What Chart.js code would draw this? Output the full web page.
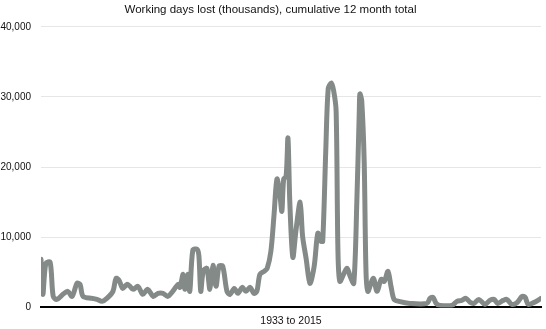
<!DOCTYPE html>
<html>
<head>
<meta charset="utf-8">
<script src="https://cdn.jsdelivr.net/npm/chart.js@4"></script>
<style>
  html, body { margin: 0; padding: 0; background: #fff; }
  #wrap { width: 546px; height: 329px; }
</style>
</head>
<body>
<div id="wrap"><canvas id="grafico"></canvas></div>
<script>
// year (decimal) and working days lost in thousands
const anni = [
  1933.0, 1933.3, 1933.8, 1934.5, 1935.0, 1935.6, 1936.6, 1937.4, 1938.1, 1938.9,
  1939.4, 1939.9, 1941.4, 1942.2, 1943.0, 1943.8, 1944.8, 1945.3, 1945.8, 1946.4,
  1947.1, 1947.6, 1948.1, 1948.9, 1949.7, 1950.5, 1951.4, 1952.2, 1953.0, 1953.8,
  1954.6, 1955.5, 1955.8, 1956.3, 1956.6, 1957.1, 1957.4, 1957.9, 1958.6, 1958.9,
  1959.2, 1959.6, 1960.2, 1960.7, 1961.2, 1961.7, 1962.2, 1962.8, 1963.5, 1964.0,
  1964.7, 1965.3, 1966.0, 1966.6, 1967.3, 1967.9, 1968.4, 1968.9, 1969.6, 1970.1,
  1970.7, 1971.2, 1971.7, 1972.2, 1972.5, 1972.8, 1973.2, 1973.5, 1973.8, 1974.3,
  1974.8, 1975.5, 1975.9, 1976.5, 1977.1, 1977.8, 1978.4, 1978.9, 1979.2, 1979.7,
  1980.1, 1980.6, 1981.0, 1981.4, 1981.7, 1982.0, 1982.7, 1983.2, 1983.7, 1984.3,
  1984.8, 1985.2, 1985.3, 1985.6, 1986.0, 1986.3, 1986.6, 1987.5, 1988.1, 1988.8,
  1989.3, 1989.9, 1990.4, 1990.9, 1991.7, 1993.5, 1996.3, 1996.8, 1997.3, 1997.8,
  1998.4, 2000.4, 2001.2, 2002.0, 2002.7, 2003.4, 2004.0, 2004.8, 2005.8, 2006.6,
  2007.3, 2007.9, 2008.8, 2009.4, 2010.2, 2011.1, 2011.9, 2012.4, 2012.9, 2013.9,
  2014.5, 2015.0
];

const giorniPersi = [
  6860, 1860, 6290, 6430, 1570, 1140, 1860, 2290, 1570, 3430,
  3290, 1570, 1290, 1140, 860, 1290, 2290, 4140, 3860, 2710,
  3290, 3000, 2570, 3000, 1860, 2570, 1570, 2000, 2000, 1570,
  2290, 3290, 2860, 4710, 2570, 4710, 2290, 8140, 8290, 7290,
  2290, 5140, 5570, 2570, 6000, 3000, 5860, 5860, 2290, 1860,
  2710, 2000, 2860, 2290, 2860, 2000, 2290, 4710, 5140, 5570,
  8000, 13000, 18290, 15860, 13710, 18290, 18710, 24140, 15140, 7140,
  10860, 15000, 10140, 6860, 3430, 5860, 10570, 9430, 9430, 22290,
  31140, 32000, 30860, 28000, 8000, 3710, 4860, 5570, 4430, 3430,
  15140, 28000, 30430, 29430, 20860, 5140, 2290, 4140, 2290, 4000,
  3710, 5140, 3000, 1140, 860, 570, 570, 1290, 1430, 570,
  290, 290, 860, 1000, 1290, 710, 570, 1140, 430, 1000,
  1140, 570, 1000, 1140, 430, 710, 1570, 1430, 430, 710,
  1000, 1290
];

const titolo = 'Working days lost (thousands), cumulative 12 month total';
const etichettaX = '1933 to 2015';
const tickY = [0, 10000, 20000, 30000, 40000];

Chart.defaults.font.family = '"Liberation Sans", Arial, sans-serif';
Chart.defaults.color = '#222';

const punti = anni.map((a, i) => ({ x: a, y: giorniPersi[i] }));

new Chart(document.getElementById('grafico').getContext('2d'), {
  type: 'line',
  data: {
    datasets: [{
      label: 'Working days lost',
      data: punti,
      borderColor: '#848a87',
      borderWidth: 5,
      pointRadius: 0,
      tension: 0.3,
      borderJoinStyle: 'round',
      borderCapStyle: 'round',
      fill: false
    }]
  },
  options: {
    responsive: true,
    maintainAspectRatio: false,
    animation: false,
    layout: { padding: { left: 0, right: 5, top: 0, bottom: 2 } },
    plugins: {
      legend: { display: false },
      tooltip: { enabled: false },
      title: {
        display: true,
        text: titolo,
        color: '#111',
        font: { size: 11.5, weight: 'normal' },
        padding: { top: 3, bottom: 10 }
      }
    },
    scales: {
      x: {
        type: 'linear',
        min: anni[0],
        max: anni[anni.length - 1],
        ticks: { display: false },
        grid: { display: false, drawTicks: false },
        border: { display: true, color: '#000', width: 2 },
        title: {
          display: true,
          text: etichettaX,
          color: '#111',
          font: { size: 10.5 },
          padding: { top: 7, bottom: 0 }
        }
      },
      y: {
        min: tickY[0],
        max: tickY[tickY.length - 1],
        afterBuildTicks: scala => { scala.ticks = tickY.map(v => ({ value: v })); },
        afterFit: scala => { scala.width = 41; },
        ticks: {
          padding: 10,
          font: { size: 10 },
          color: '#111',
          callback: v => v.toLocaleString('en-US')
        },
        grid: { color: '#e6e6e6', drawTicks: false },
        border: { display: false }
      }
    }
  }
});
</script>
</body>
</html>
